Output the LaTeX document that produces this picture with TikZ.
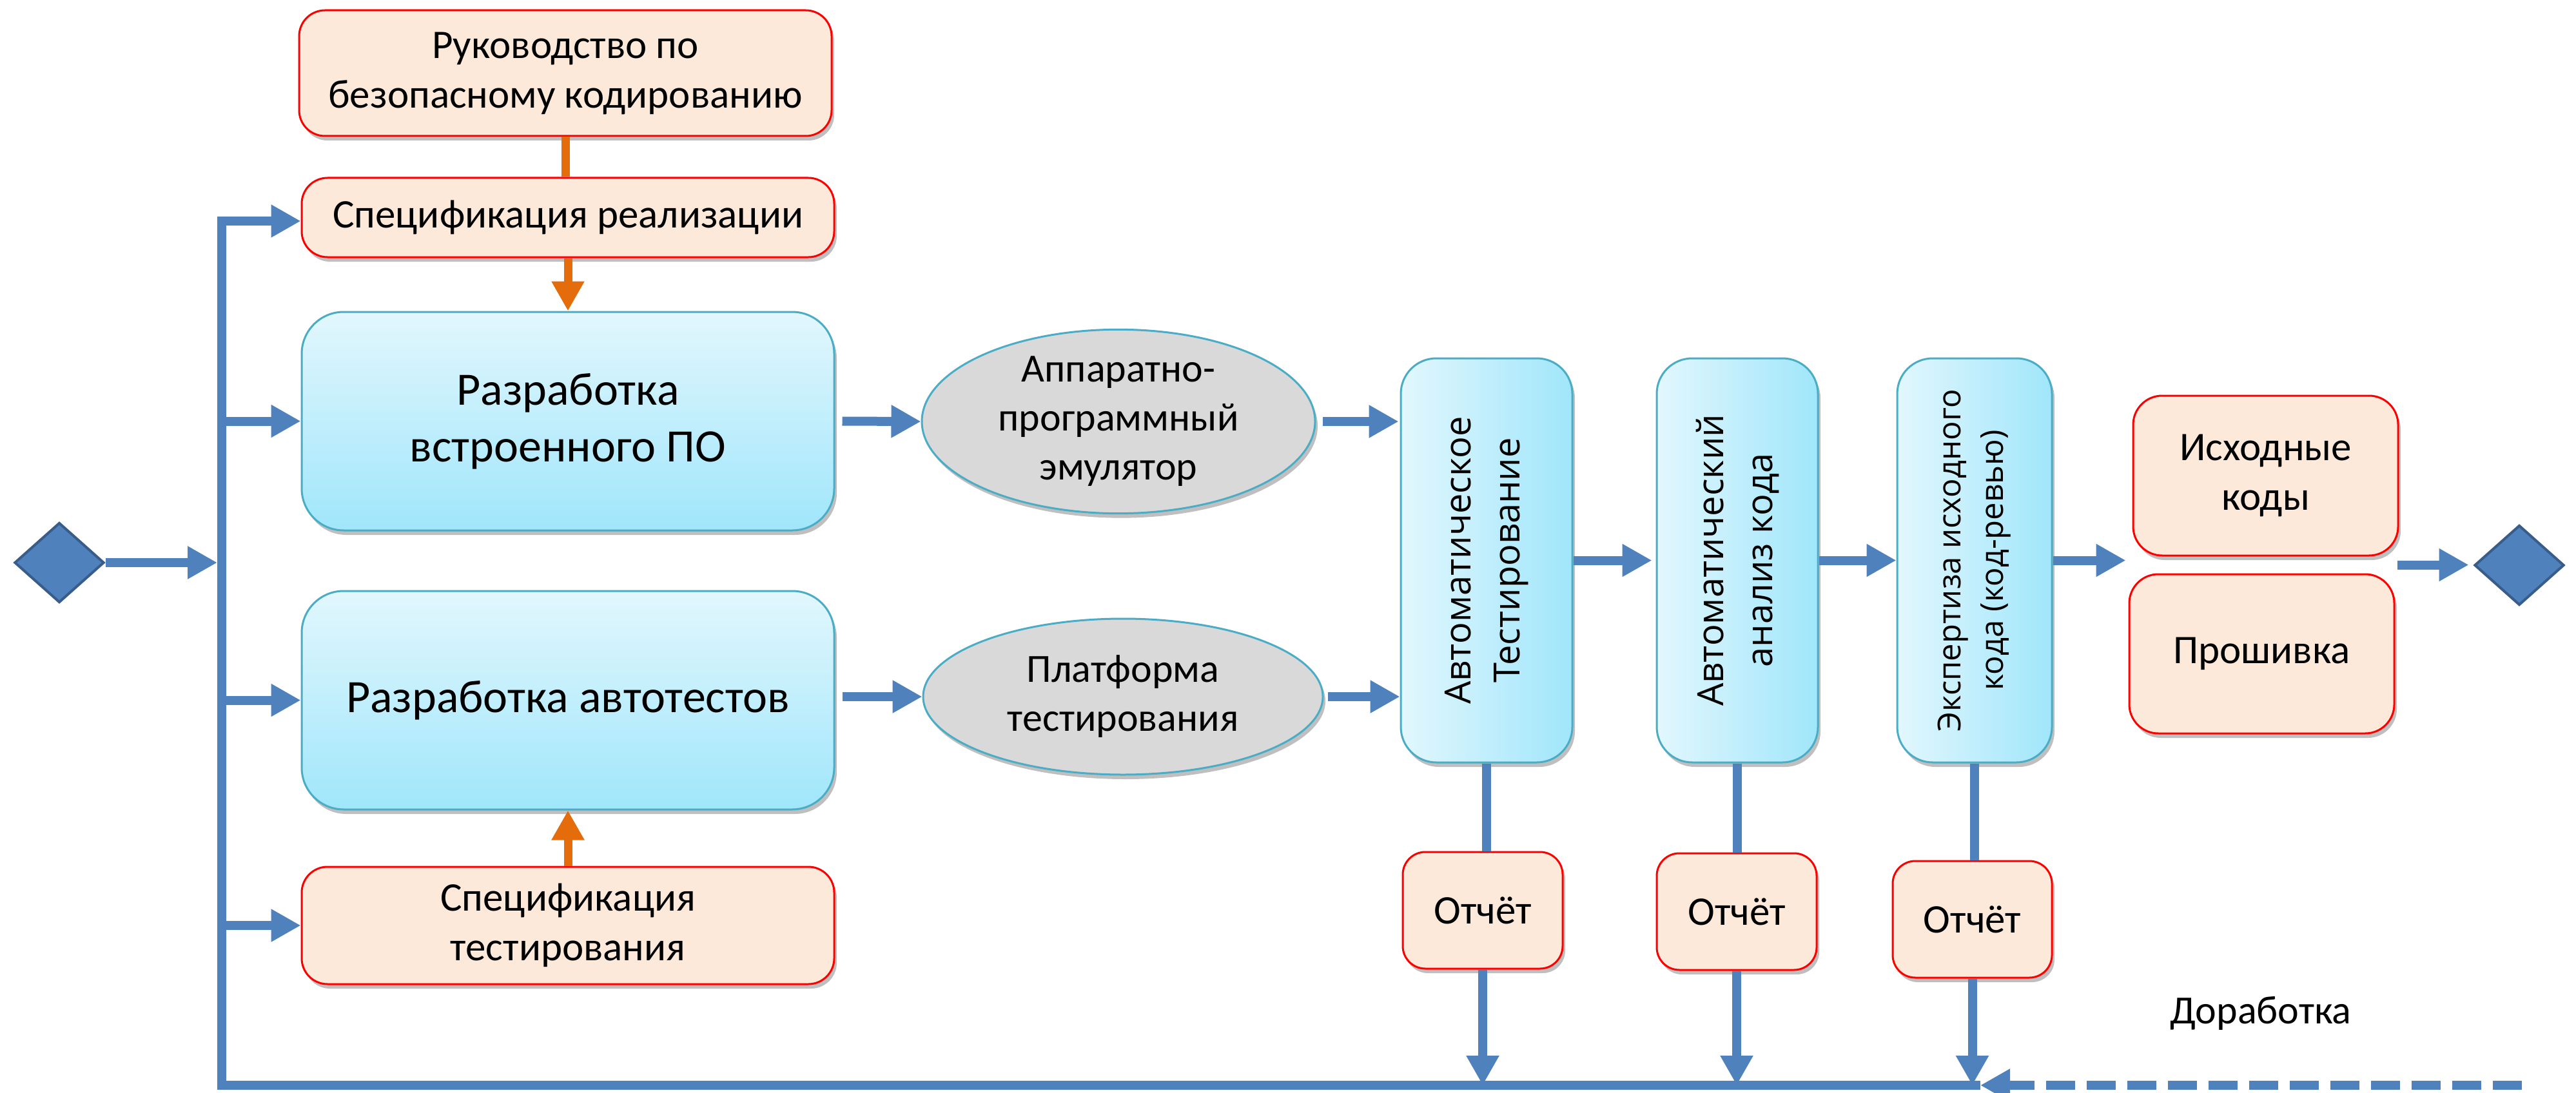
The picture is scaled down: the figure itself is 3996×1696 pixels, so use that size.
\documentclass[tikz,border=0pt]{standalone}
\usepackage{fontspec}
\setmainfont{Carlito}
\newfontfamily\vfont{Open Sans}
\usetikzlibrary{arrows.meta,shapes.geometric,shadows,calc}
\definecolor{cblue}{HTML}{4F81BD}
\definecolor{cdiam}{HTML}{385D8A}
\definecolor{corange}{HTML}{E46C0A}
\definecolor{cpeach}{HTML}{FDE9DA}
\definecolor{cred}{HTML}{FF0000}
\definecolor{ctop}{HTML}{E2F7FD}
\definecolor{cbot}{HTML}{A0E6FB}
\definecolor{cedge}{HTML}{4BACC6}
\definecolor{cgray}{HTML}{D9D9D9}
\tikzset{
  shad/.style={drop shadow={shadow xshift=4pt,shadow yshift=-7pt,opacity=0.25,fill=black}},
  peach/.style={shad,draw=cred,line width=3pt,fill=cpeach,rounded corners=40pt,align=center,inner sep=0pt,font=\fontsize{63}{77}\selectfont},
  hbox/.style={shad,draw=cedge,line width=3pt,top color=ctop,bottom color=cbot,rounded corners=65pt,align=center,inner sep=0pt,font=\fontsize{72}{88}\selectfont},
  vbox/.style={shad,draw=cedge,line width=3pt,left color=ctop,right color=cbot,rounded corners=55pt,inner sep=0pt},
  vtext/.style={rotate=90,align=center,font=\vfont\fontsize{56}{76}\selectfont},
  ell/.style={shad,ellipse,draw=cedge,line width=3pt,fill=cgray,align=center,inner sep=0pt,font=\fontsize{62}{76}\selectfont},
  diam/.style={diamond,fill=cblue,draw=cdiam,line width=4pt,inner sep=0pt,minimum width=139pt,minimum height=124pt},
  conn/.style={draw=cblue,line width=14pt},
  head/.style={-{Triangle[length=46pt,width=48pt]}},
  oconn/.style={draw=corange,line width=13pt},
}
\begin{document}
\begin{tikzpicture}[x=1pt,y=-1pt]
\useasboundingbox (0,0) rectangle (3996,1696);
% nodes
\node[peach,minimum width=826pt,minimum height=195pt] (guide) at (877,113.5) {Руководство по\\безопасному кодированию};
\node[peach,minimum width=826pt,minimum height=123pt] (specR) at (881,337.5) {Спецификация реализации};
\node[hbox,minimum width=826pt,minimum height=339pt] (dev) at (881,653.5) {Разработка\\встроенного ПО};
\node[hbox,minimum width=826pt,minimum height=339pt] (auto) at (881,1086.5) {Разработка автотестов};
\node[peach,minimum width=826pt,minimum height=182pt] (specT) at (881,1436) {Спецификация\\тестирования};
\node[ell,minimum width=610pt,minimum height=243pt] (emu) at (1735,654) {Аппаратно-\\программный\\эмулятор};
\node[ell,minimum width=620pt,minimum height=242pt] (plat) at (1742,1081) {Платформа\\тестирования};
\node[vbox,minimum width=266pt,minimum height=627pt] (at) at (2306,869.5) {};
\node[vtext] (atT) at (at.center) {Автоматическое\\Тестирование};
\node[vbox,minimum width=250pt,minimum height=627pt] (aa) at (2695,869.5) {};
\node[vtext] (aaT) at (aa.center) {Автоматический\\анализ кода};
\node[vbox,minimum width=240pt,minimum height=627pt] (ex) at (3063,869.5) {};
\node[vtext,font=\vfont\fontsize{49}{66}\selectfont] (exT) at (ex.center) {Экспертиза исходного\\кода (код-ревью)};
\node[peach,rounded corners=35pt,minimum width=248pt,minimum height=181pt] (rep1) at (2300,1412.5) {Отчёт};
\node[peach,rounded corners=35pt,minimum width=248pt,minimum height=181pt] (rep2) at (2694,1414.5) {Отчёт};
\node[peach,rounded corners=35pt,minimum width=247pt,minimum height=181pt] (rep3) at (3059.5,1426.5) {Отчёт};
\node[peach,rounded corners=45pt,minimum width=411pt,minimum height=248pt] (src) at (3514.5,738) {Исходные\\коды};
\node[peach,rounded corners=45pt,minimum width=411pt,minimum height=247pt] (fw) at (3508.5,1014.5) {Прошивка};
\node[diam] (dL) at (92,873) {};
\node[diam] (dR) at (3908,877) {};
\node[font=\fontsize{62}{76}\selectfont] (dor) at (3507,1572) {Доработка};
% coordinates
\coordinate (busTop) at (344,343);
\coordinate (busBot) at (344,1684);
\coordinate (lineEnd) at (3072,1684);
\coordinate (dashStart) at (3912,1684);
\coordinate (gap) at ($(src.south east)!0.5!(fw.north east)$);
% bus
\draw[conn,head] (lineEnd) -- (busBot) -- ([yshift=7pt]busTop) -- (busTop) -- (busTop -| specR.west);
\draw[conn,head] (busTop |- dev.west) -- (dev.west);
\draw[conn,head] (busTop |- auto.west) -- (auto.west);
\draw[conn,head] (busTop |- specT.west) -- (specT.west);
\draw[conn,head,shorten >=7pt] (dL.east) -- (dL.east -| busTop);
\draw[conn,head,dash pattern=on 45pt off 18pt] (dashStart) -- (lineEnd);
% main flow
\draw[conn,head,shorten <=11pt] (dev.east) -- (emu.west);
\draw[conn,head,shorten <=11pt] (auto.east |- plat.west) -- (plat.west);
\draw[conn,head,shorten <=10pt,shorten >=2pt] (emu.east) -- (emu.east -| at.west);
\draw[conn,head,shorten <=6pt] (plat.east) -- (plat.east -| at.west);
\draw[conn,head,shorten >=6pt] (at.east) -- (aa.west);
\draw[conn,head] (aa.east) -- (ex.west);
\draw[conn,head,shorten >=10pt] (ex.east) -- (ex.east -| src.west);
\draw[conn,head,shorten >=7pt] (gap) -- (gap -| dR.west);
% reports
\draw[conn] (at.south) -- (at.south |- rep1.north);
\draw[conn] (aa.south) -- (aa.south |- rep2.north);
\draw[conn] (ex.south) -- (ex.south |- rep3.north);
\draw[conn,head] (rep1.south) -- (rep1.south |- busBot);
\draw[conn,head] (rep2.south) -- (rep2.south |- busBot);
\draw[conn,head] (rep3.south) -- (rep3.south |- busBot);
% orange
\draw[oconn] (guide.south) -- (guide.south |- specR.north);
\draw[oconn,head] (specR.south) -- (specR.south |- dev.north);
\draw[oconn,head] (specT.north) -- (specT.north |- auto.south);
\end{tikzpicture}
\end{document}
